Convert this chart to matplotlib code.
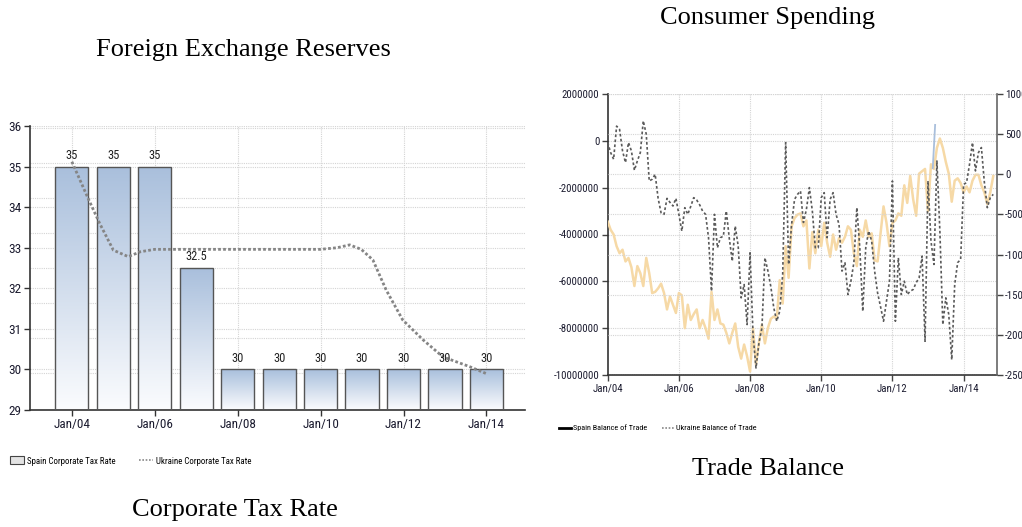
import numpy as np
import matplotlib
matplotlib.use("Agg")
import matplotlib.pyplot as plt
from matplotlib import font_manager
from matplotlib.patches import Rectangle
from matplotlib.lines import Line2D
from matplotlib.colors import LinearSegmentedColormap

# ---------------- data ----------------
tax_years = [2004, 2005, 2006, 2007, 2008, 2009, 2010, 2011, 2012, 2013, 2014]
spain_tax = [35, 35, 35, 32.5, 30, 30, 30, 30, 30, 30, 30]
tax_labels = ["35", "35", "35", "32.5", "30", "30", "30", "30", "30", "30", "30"]
ukr_tax_t = [2004.0, 2004.39, 2004.67, 2005.0, 2005.36, 2005.65, 2006.0, 2007.0, 2008.0,
             2009.0, 2010.0, 2010.4, 2010.7, 2010.98, 2011.26, 2011.58, 2011.98, 2012.47,
             2012.95, 2013.59, 2013.99]
ukr_tax = [35.12, 34.22, 33.6, 32.94, 32.78, 32.9, 32.96, 32.96, 32.96,
           32.96, 32.96, 33.0, 33.07, 32.96, 32.7, 31.96, 31.22, 30.73,
           30.31, 30.07, 29.9]
tax_xticks = [2004, 2006, 2008, 2010, 2012, 2014]
tax_xticklabels = ["Jan/04", "Jan/06", "Jan/08", "Jan/10", "Jan/12", "Jan/14"]

# monthly trade balance, Jan 2004 onwards
spain_trade = [-3.45, -3.8, -4.0, -4.5, -4.8, -4.65, -5.15, -5.0, -5.4, -6.2, -5.35, -5.65,
               -6.2, -5.0, -5.65, -6.5, -6.45, -6.3, -6.1, -6.5, -7.2, -6.65, -7.0, -7.35,
               -6.5, -6.6, -8.0, -7.0, -7.65, -7.4, -7.2, -8.0, -7.65, -8.0, -8.45, -6.45,
               -7.65, -7.2, -7.8, -7.85, -8.2, -8.65, -8.2, -7.8, -8.8, -9.3, -8.7, -9.2,
               -9.85, -8.0, -9.55, -8.6, -7.85, -8.65, -8.0, -7.6, -7.5, -7.6, -5.95, -6.95,
               -4.5, -5.85, -3.65, -3.3, -3.15, -3.1, -3.65, -3.4, -5.45, -3.9, -4.8, -3.8,
               -4.5, -3.5, -4.35, -4.95, -4.0, -4.65, -4.15, -4.35, -4.1, -3.65, -3.8, -4.8,
               -5.35, -3.8, -4.1, -3.4, -4.1, -3.95, -5.1, -5.15, -3.95, -2.8, -3.5, -4.5,
               -3.5, -3.4, -3.1, -3.2, -1.9, -2.65, -1.5, -2.5, -3.2, -1.4, -1.3, -1.2,
               -3.0, -1.0, -1.2, -0.3, 0.1, -0.3, -0.9, -1.4, -2.6, -1.7, -1.6, -1.8,
               -2.2, -1.95, -2.2, -1.7, -1.45, -1.45, -1.9, -2.2, -2.7, -2.2, -1.5]
spain_trade = [v * 1e6 for v in spain_trade]
ukraine_trade = [395, 270, 187, 600, 560, 291, 146, 395, 291, 50, 166, 270,
                 666, 499, -83, -62, 0, -300, -480, -499, -300, -350, -395, -300,
                 -499, -707, -416, -499, -400, -291, -320, -380, -458, -499, -790, -1456,
                 -499, -915, -790, -770, -458, -800, -1082, -645, -894, -1539, -1373, -1872,
                 -978, -1997, -2413, -2100, -1914, -1040, -1200, -1400, -1664, -1830, -1706, -1248,
                 395, -1123, -624, -312, -250, -208, -600, -437, -166, -458, -915, -915,
                 -291, -229, -790, -312, -229, -500, -624, -1206, -1102, -1498, -1331, -1102,
                 -416, -915, -1706, -915, -707, -832, -1206, -1477, -1650, -1830, -1581, -1331,
                 -83, -1830, -1040, -1498, -1331, -1498, -1456, -1435, -1350, -1290, -1019, -2080,
                 -83, -832, -1123, 166, -707, -1872, -1539, -1747, -2309, -1373, -1100, -1061,
                 -125, -104, 125, 395, 42, 270, 333, -100, -416, -291, -250]
blue_t = [2004 + 109.6 / 12, 2004 + 110.4 / 12]
blue_v = [-1.17e6, 0.68e6]
trade_xticks = [2004, 2006, 2008, 2010, 2012, 2014]
trade_xticklabels = ["Jan/04", "Jan/06", "Jan/08", "Jan/10", "Jan/12", "Jan/14"]
left_ticks = [2000000, 0, -2000000, -4000000, -6000000, -8000000, -10000000]
right_ticks = [1000, 500, 0, -500, -1000, -1500, -2000, -2500]

# ---------------- fonts ----------------
fl = font_manager.fontManager.ttflist
avail = {f.name for f in fl}
narrow = None
stretch = "normal"
for cand in ["Liberation Sans Narrow", "Roboto Condensed", "DejaVu Sans Condensed",
             "Open Sans Condensed", "Noto Sans Condensed"]:
    if cand in avail:
        narrow = cand
        break
if narrow is None:
    for f in fl:
        if f.stretch in ("condensed", "semi-condensed", 500, 300, 400) and f.name in (
                "DejaVu Sans", "Noto Sans", "Roboto", "Open Sans"):
            narrow = f.name
            stretch = "condensed"
            break
has_narrow = narrow is not None
if narrow is None:
    narrow = "DejaVu Sans"
serif = "Liberation Serif" if "Liberation Serif" in avail else "DejaVu Serif"
plt.rcParams["font.family"] = [narrow, "DejaVu Sans"]
plt.rcParams["font.stretch"] = stretch
sz_tick = 9.5 if has_narrow else 7.5
sz_tick_r = 7.8 if has_narrow else 6.4
sz_leg = 6.4 if has_narrow else 5.4
sz_leg_r = 5.9 if has_narrow else 5.0

fig = plt.figure(figsize=(10.22, 5.27), dpi=100)
W, H = 1022, 527

def axrect(x0, y0, x1, y1):
    return [x0 / W, 1 - y1 / H, (x1 - x0) / W, (y1 - y0) / H]

grid_kw = dict(color="#d4d4d4", linestyle=(0, (1, 1)), linewidth=0.8)
tick_col = "#1c1c30"

# ---------------- left chart ----------------
ax = fig.add_axes(axrect(30, 126, 525, 410))
ax.set_xlim(2002.99, 2014.93)
ax.set_ylim(29, 36)
for y in range(29, 37):
    ax.axhline(y, zorder=0, **grid_kw)
for y in np.arange(29.9, 36.1, 0.866):
    ax.axhline(y, zorder=0, **grid_kw)
for x in tax_xticks:
    ax.axvline(x, zorder=0, **grid_kw)

grad = np.linspace(0, 1, 256).reshape(-1, 1)
cmap = LinearSegmentedColormap.from_list("bar", ["#fbfcfe", "#a9bfdc"])
bw = 0.8
for x, v, lab in zip(tax_years, spain_tax, tax_labels):
    rect = Rectangle((x - bw / 2, 29), bw, v - 29, facecolor="none",
                     edgecolor="#555555", linewidth=1.0, zorder=3)
    ax.add_patch(rect)
    im = ax.imshow(grad, extent=(x - bw / 2, x + bw / 2, 29, v), origin="lower",
                   cmap=cmap, aspect="auto", zorder=2)
    im.set_clip_path(rect)
    ax.text(x, v + 0.12, lab, ha="center", va="bottom", fontsize=sz_tick - 0.5,
            color="#222222", zorder=5)
ax.set_aspect("auto")
ax.set_xlim(2002.99, 2014.93)
ax.set_ylim(29, 36)
ax.plot(ukr_tax_t, ukr_tax, color="#858585", linestyle=(0, (1, 0.8)), linewidth=2.0, zorder=4)

ax.set_yticks(range(29, 37))
ax.set_xticks(tax_xticks)
ax.set_xticklabels(tax_xticklabels)
ax.tick_params(axis="both", labelsize=sz_tick, colors="#333333", labelcolor=tick_col,
               length=4, width=1, pad=2)
for s in ["top", "right"]:
    ax.spines[s].set_visible(False)
for s in ["left", "bottom"]:
    ax.spines[s].set_color("#333333")
    ax.spines[s].set_linewidth(1.2)

leg1 = [Rectangle((0, 0), 1, 1, facecolor="#e3e3e3", edgecolor="#444444", linewidth=0.8),
        Line2D([0], [0], color="#888888", linestyle=(0, (1, 1)), linewidth=1.2)]
fig.legend(leg1, ["Spain Corporate Tax Rate", "Ukraine Corporate Tax Rate"],
           loc="center left", bbox_to_anchor=(2 / W, 1 - 461 / H), ncol=2, frameon=False,
           fontsize=sz_leg, handlelength=1.6, handleheight=1.0, columnspacing=2.6, handletextpad=0.3)

fig.text(243 / W, 1 - 50 / H, "Foreign Exchange Reserves", ha="center", va="center",
         fontsize=19, family=serif)
fig.text(235 / W, 1 - 510 / H, "Corporate Tax Rate", ha="center", va="center",
         fontsize=19, family=serif)

# ---------------- right chart ----------------
bx = fig.add_axes(axrect(607.7, 94, 996.7, 375))
bx2 = bx.twinx()
t = [2004 + i / 12 for i in range(len(spain_trade))]
tu = [2004 + i / 12 for i in range(len(ukraine_trade))]
bx.set_xlim(2004.0, 2014.93)
bx.set_ylim(-10000000, 2000000)
bx2.set_ylim(-2500, 1000)
for y in left_ticks:
    bx.axhline(y, zorder=0, **grid_kw)
for y in right_ticks:
    bx2.axhline(y, zorder=0, **grid_kw)
for x in trade_xticks[1:]:
    bx.axvline(x, zorder=0, **grid_kw)

bx.plot(t, spain_trade, color="#f6d9a6", linewidth=1.8, zorder=3)
bx.plot(blue_t, blue_v, color="#a9bfdc", linewidth=1.3, zorder=3)
bx2.plot(tu, ukraine_trade, color="#5a5a5a", linestyle=(0, (1.6, 1.4)), linewidth=1.2, zorder=4)

bx.set_yticks(left_ticks)
bx.set_yticklabels([str(v) for v in left_ticks])
bx2.set_yticks(right_ticks)
bx2.set_yticklabels([str(v) for v in right_ticks])
bx.set_xticks(trade_xticks)
bx.set_xticklabels(trade_xticklabels)
for a in (bx, bx2):
    a.tick_params(axis="both", labelsize=sz_tick_r, colors="#444444", labelcolor=tick_col,
                  length=4, width=1, pad=2)
    a.spines["top"].set_visible(False)
bx.spines["right"].set_visible(False)
bx2.spines["left"].set_visible(False)
bx2.spines["bottom"].set_visible(False)
bx.spines["left"].set_color("#333333")
bx.spines["bottom"].set_color("#333333")
bx2.spines["right"].set_color("#666666")
bx2.spines["right"].set_linewidth(1.2)
bx.spines["left"].set_linewidth(1.2)
bx.spines["bottom"].set_linewidth(1.2)

leg2 = [Line2D([0], [0], color="black", linewidth=2),
        Line2D([0], [0], color="#888888", linestyle=(0, (1, 1)), linewidth=1.2)]
fig.legend(leg2, ["Spain Balance of Trade", "Ukraine Balance of Trade"],
           loc="center left", bbox_to_anchor=(552 / W, 1 - 428 / H), ncol=2, frameon=False,
           fontsize=sz_leg_r, handlelength=1.4, columnspacing=1.8, handletextpad=0.3)

fig.text(768 / W, 1 - 18 / H, "Consumer Spending", ha="center", va="center",
         fontsize=19, family=serif)
fig.text(768 / W, 1 - 469 / H, "Trade Balance", ha="center", va="center",
         fontsize=19, family=serif)

fig.savefig("out.png", dpi=100, facecolor="white")
